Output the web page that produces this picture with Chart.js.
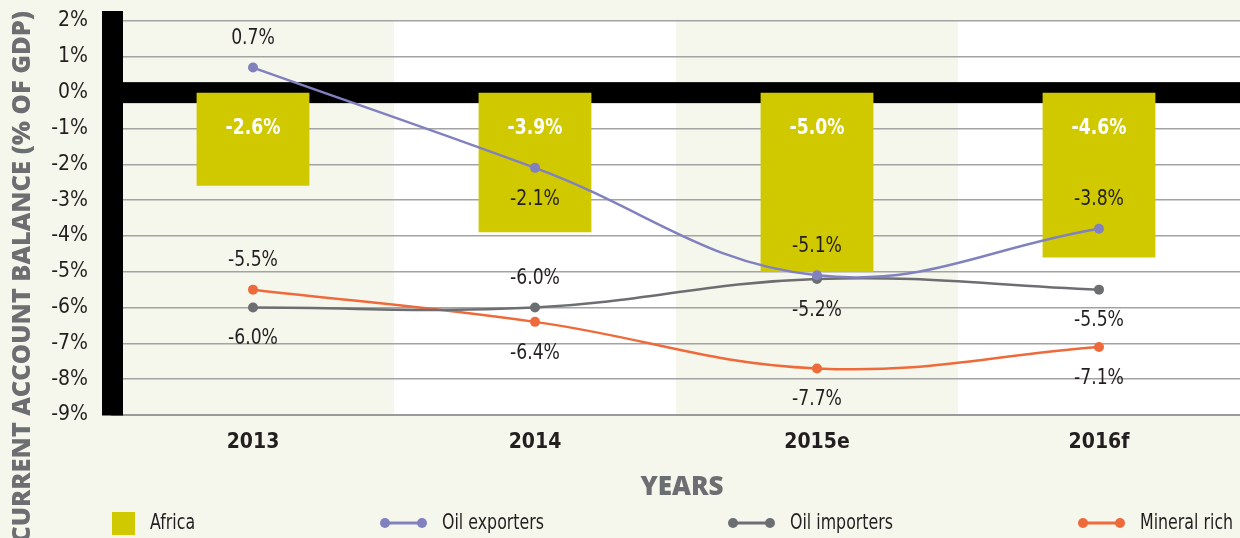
<!DOCTYPE html>
<html><head><meta charset="utf-8">
<script src="https://cdn.jsdelivr.net/npm/chart.js@4"></script>
<style>html,body{margin:0;padding:0;background:#f6f7ec;overflow:hidden}#wrap{width:1240px;height:538px;position:relative}</style>
</head><body><div id="wrap"><canvas id="c" width="1240" height="538"></canvas></div>
<script>
const categories = ['2013', '2014', '2015e', '2016f'];
const africa = [-2.6, -3.9, -5.0, -4.6];
const oilExporters = [0.7, -2.1, -5.1, -3.8];
const oilImporters = [-6.0, -6.0, -5.2, -5.5];
const mineralRich = [-5.5, -6.4, -7.7, -7.1];
const yMin = -9, yMax = 2, yStep = 1;
const exportersLabelSide = ['above', 'below', 'above', 'above'];
const importersLabelSide = ['below', 'above', 'below', 'below'];
const mineralLabelSide = ['above', 'below', 'below', 'below'];

const NARROW = '"DejaVu Sans Condensed", "Liberation Sans Narrow", sans-serif';
const SQUEEZE = 0.87;
const LEGEND_SQUEEZE = 0.8;
const PAGE_BG = '#f6f7ec';
const C_AFRICA = '#d1c900', C_EXP = '#8281c0', C_IMP = '#6d6e71', C_MIN = '#ee6a3b';
const TXT = '#231f20';
const fmt = v => v.toFixed(1) + '%';

function squeezedText(ctx, txt, x, y, align, sq) {
  ctx.save();
  ctx.translate(x, y);
  ctx.scale(sq || SQUEEZE, 1);
  ctx.textAlign = align || 'center';
  ctx.textBaseline = 'middle';
  ctx.fillText(txt, 0, 0);
  ctx.restore();
}

const bgPlugin = {
  id: 'bg',
  beforeDraw(chart) {
    const {ctx, chartArea: a, scales: {x}} = chart;
    ctx.save();
    ctx.fillStyle = PAGE_BG;
    ctx.fillRect(0, 0, chart.width, chart.height);
    const half = (x.getPixelForValue(1) - x.getPixelForValue(0)) / 2;
    ctx.fillStyle = '#ffffff';
    categories.forEach((c, i) => {
      if (i % 2 === 1) {
        const cx = x.getPixelForValue(i);
        ctx.fillRect(cx - half, a.top, half * 2, a.bottom - a.top);
      }
    });
    ctx.restore();
  },
  beforeDatasetsDraw(chart) {
    const {ctx, chartArea: a, scales: {y}} = chart;
    const y0 = y.getPixelForValue(0);
    ctx.save();
    ctx.fillStyle = '#000000';
    ctx.fillRect(a.left, y0 - 10.5, a.right - a.left, 21);
    ctx.restore();
  }
};

const labelPlugin = {
  id: 'labels',
  afterDatasetsDraw(chart) {
    const {ctx} = chart;
    ctx.save();
    const barMeta = chart.getDatasetMeta(0);
    ctx.font = 'bold 22px ' + NARROW;
    ctx.fillStyle = '#ffffff';
    barMeta.data.forEach((el, i) => {
      squeezedText(ctx, fmt(africa[i]), el.x, el.base + 36);
    });
    ctx.font = '22px ' + NARROW;
    ctx.fillStyle = TXT;
    const sets = [[1, oilExporters, exportersLabelSide], [2, oilImporters, importersLabelSide], [3, mineralRich, mineralLabelSide]];
    sets.forEach(([di, vals, sides]) => {
      const meta = chart.getDatasetMeta(di);
      meta.data.forEach((pt, i) => {
        const dy = sides[i] === 'above' ? -29 : 31;
        squeezedText(ctx, fmt(vals[i]), pt.x, pt.y + dy);
      });
    });
    ctx.restore();
  },
  afterDraw(chart) {
    const {ctx} = chart;
    ctx.save();
    ctx.fillStyle = '#6d6e71';
    const title = 'CURRENT ACCOUNT BALANCE (% OF GDP)';
    const fam = '"Open Sans", "DejaVu Sans", sans-serif';
    let fs = 24;
    ctx.font = '800 ' + fs + 'px ' + fam;
    const w = ctx.measureText(title).width;
    fs = fs * 532 / w;
    ctx.font = '800 ' + fs.toFixed(2) + 'px ' + fam;
    ctx.translate(23, 11);
    ctx.rotate(-Math.PI / 2);
    ctx.textAlign = 'right';
    ctx.textBaseline = 'middle';
    ctx.fillText(title, 0, 0);
    ctx.restore();

    ctx.save();
    ctx.fillStyle = '#6d6e71';
    ctx.font = '800 26px ' + fam;
    ctx.textAlign = 'center';
    ctx.textBaseline = 'middle';
    ctx.fillText('YEARS', 682, 488);

    const ly = 523;
    ctx.font = '22px ' + NARROW;
    ctx.fillStyle = C_AFRICA;
    ctx.fillRect(112, 512, 23, 23);
    ctx.fillStyle = TXT;
    squeezedText(ctx, 'Africa', 150, ly, 'left', LEGEND_SQUEEZE);
    const lineItems = [[385, C_EXP, 'Oil exporters', 442], [733, C_IMP, 'Oil importers', 790], [1083, C_MIN, 'Mineral rich', 1140]];
    lineItems.forEach(([x0, col, txt, tx]) => {
      ctx.strokeStyle = col; ctx.lineWidth = 3;
      ctx.beginPath(); ctx.moveTo(x0, ly); ctx.lineTo(x0 + 37, ly); ctx.stroke();
      ctx.fillStyle = col;
      [x0, x0 + 37].forEach(px => { ctx.beginPath(); ctx.arc(px, ly, 5, 0, Math.PI * 2); ctx.fill(); });
      ctx.fillStyle = TXT;
      squeezedText(ctx, txt, tx, ly, 'left', LEGEND_SQUEEZE);
    });
    ctx.restore();
  }
};

const lineDs = (label, data, color) => ({
  type: 'line', label, data, borderColor: color, backgroundColor: color,
  borderWidth: 2.5, pointRadius: 5, pointHoverRadius: 5, pointBackgroundColor: color,
  pointBorderWidth: 0, tension: 0.4, fill: false, order: 1, clip: false
});

new Chart(document.getElementById('c'), {
  data: {
    labels: categories,
    datasets: [
      {type: 'bar', label: 'Africa', data: africa, backgroundColor: C_AFRICA, borderWidth: 0,
       barPercentage: 0.4, categoryPercentage: 1, order: 10},
      lineDs('Oil exporters', oilExporters, C_EXP),
      lineDs('Oil importers', oilImporters, C_IMP),
      lineDs('Mineral rich', mineralRich, C_MIN)
    ]
  },
  options: {
    responsive: false, animation: false, devicePixelRatio: 1,
    layout: {autoPadding: false, padding: {top: 21, right: 0, bottom: 0, left: 0}},
    plugins: {legend: {display: false}, tooltip: {enabled: false}},
    scales: {
      x: {
        type: 'category', offset: true,
        grid: {display: false, drawTicks: false},
        border: {display: true, color: '#9a9a9a', width: 2},
        ticks: {color: TXT, font: {family: NARROW, size: 21, weight: 'bold'}, padding: 15},
        afterFit: s => { s.height = 123; s.paddingLeft = 0; s.paddingRight = 0; }
      },
      y: {
        min: yMin, max: yMax,
        ticks: {stepSize: yStep, color: TXT, font: {family: NARROW, size: 21}, padding: 24,
                callback: v => v + '%'},
        grid: {
          drawTicks: false,
          color: '#a3a3a3',
          lineWidth: c => (c.tick && c.tick.value === 0) ? 0 : 1.5
        },
        border: {display: true, color: '#000000', width: 21},
        afterFit: s => { s.width = 112; s.paddingTop = 0; s.paddingBottom = 0; }
      }
    }
  },
  plugins: [bgPlugin, labelPlugin]
});
</script></body></html>
